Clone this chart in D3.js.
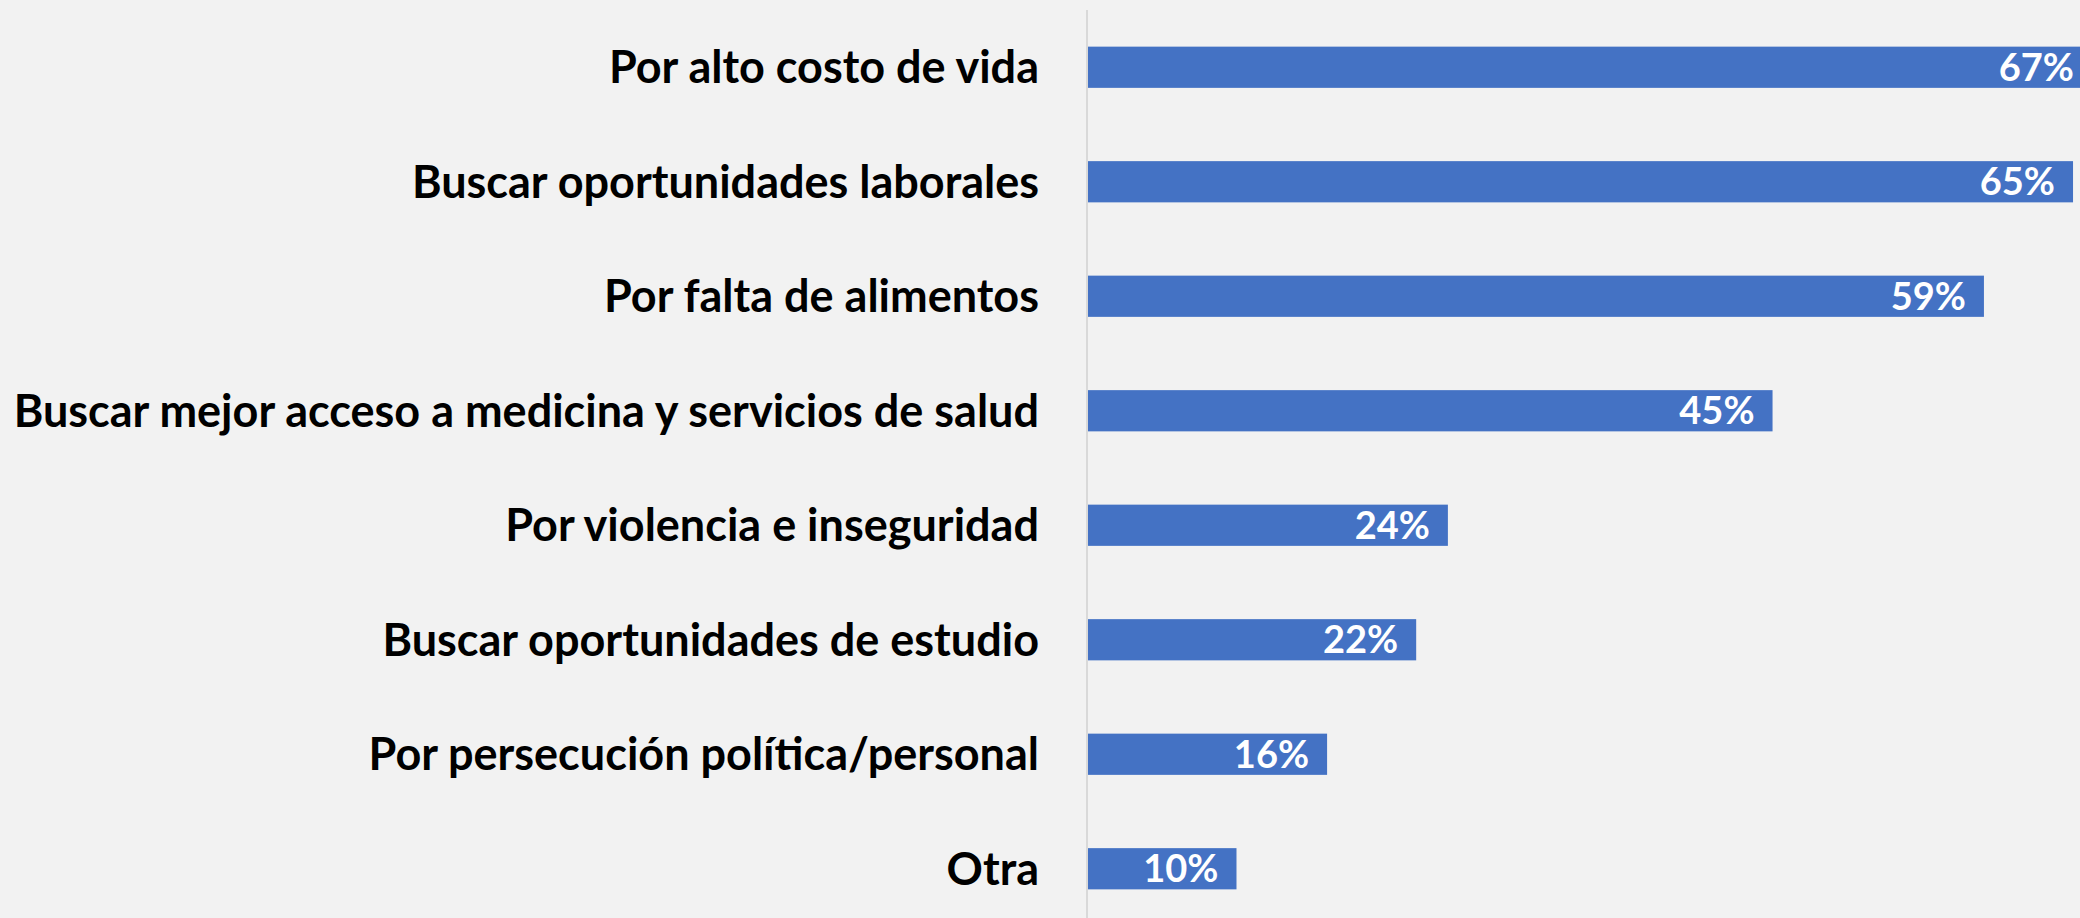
<!DOCTYPE html>
<meta charset="utf-8">
<style>
body { margin: 0; background: #f2f2f2; }
svg { display: block; background: #f2f2f2; }
.cat { font: bold 45px Lato, "Open Sans", sans-serif; fill: #000; }
.val { font: bold 38px Lato, "Open Sans", sans-serif; fill: #fff; }
</style>
<svg width="2080" height="918"></svg>
<script src="https://d3js.org/d3.v7.min.js"></script>
<script>

// reasons, top to bottom
var categories = [
  "Por alto costo de vida",
  "Buscar oportunidades laborales",
  "Por falta de alimentos",
  "Buscar mejor acceso a medicina y servicios de salud",
  "Por violencia e inseguridad",
  "Buscar oportunidades de estudio",
  "Por persecución política/personal",
  "Otra"
];
// bar lengths; labels show them rounded
var values = [67.2, 65.3, 59.4, 45.4, 23.9, 21.8, 15.9, 9.9];

var svg = d3.select("svg"),
    width = +svg.attr("width"),
    x0 = 1087;

var x = d3.scaleLinear()
    .domain([0, 100])
    .range([x0, x0 + 1510]);

var y = d3.scaleBand()
    .domain(categories)
    .range([10, 10 + 114.5 * 8])
    .paddingInner(0.64)
    .paddingOuter(0.32);

// vertical axis line
svg.append("line")
    .attr("x1", x0).attr("x2", x0)
    .attr("y1", 10).attr("y2", 918)
    .attr("stroke", "#d9d9d9")
    .attr("stroke-width", 2);

var rows = svg.selectAll("g.row")
  .data(categories)
  .enter().append("g")
    .attr("class", "row");

rows.append("rect")
    .attr("x", x0 + 1)
    .attr("y", function(d) { return y(d); })
    .attr("width", function(d, i) { return x(values[i]) - x0 - 1; })
    .attr("height", y.bandwidth())
    .attr("fill", "#4472c4");

rows.append("text")
    .attr("class", "cat")
    .attr("x", x0 - 48)
    .attr("y", function(d) { return y(d) + y.bandwidth() / 2; })
    .attr("dy", "0.35em")
    .attr("text-anchor", "end")
    .text(function(d) { return d; });

// keep the label inside the frame when the bar runs past the edge
rows.append("text")
    .attr("class", "val")
    .attr("x", function(d, i) { return Math.min(x(values[i]) - 18, width - 6); })
    .attr("y", function(d) { return y(d) + y.bandwidth() / 2; })
    .attr("dy", "0.36em")
    .attr("text-anchor", "end")
    .text(function(d, i) { return Math.round(values[i]) + "%"; });

</script>
